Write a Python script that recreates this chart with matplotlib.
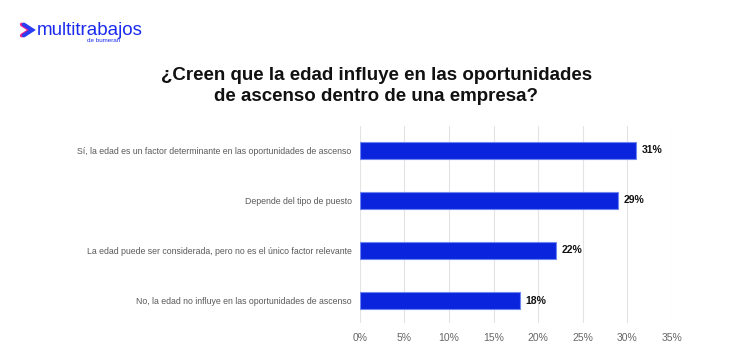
import matplotlib
matplotlib.use('Agg')
from matplotlib import pyplot as plt
from matplotlib.lines import Line2D

# Data
categories = ['Sí, la edad es un factor determinante en las oportunidades de ascenso',
              'Depende del tipo de puesto',
              'La edad puede ser considerada, pero no es el único factor relevante',
              'No, la edad no influye en las oportunidades de ascenso']
values = [31, 29, 22, 18]
xticks = [0, 5, 10, 15, 20, 25, 30, 35]

plt.rcParams['font.family'] = ['Liberation Sans', 'DejaVu Sans']

W, H = 753, 364
fig = plt.figure(figsize=(W / 100, H / 100), dpi=100)
ax = fig.add_axes([0.478, 0.1126, 0.892 - 0.478, 0.654 - 0.1126])

ypos = list(range(len(categories)))
ax.barh(ypos, values, height=0.35, color='#0A24DE', edgecolor='#6F86F0', linewidth=0.8, zorder=3)
for y, v in zip(ypos, values):
    ax.text(v + 0.6, y, '%d%%' % v, va='center', ha='left', fontsize=7.5, fontweight='bold', color='#111111')

ax.set_xlim(0, 35)
ax.set_ylim(3.45, -0.49)
ax.set_xticks(xticks)
ax.set_xticklabels(['%d%%' % t for t in xticks], fontsize=7.5, color='#666666')
ax.set_yticks(ypos)
ax.set_yticklabels(categories, fontsize=6.3, color='#5a5a5a')
ax.tick_params(axis='both', length=0)
ax.tick_params(axis='y', pad=6)
ax.tick_params(axis='x', pad=7)
ax.grid(axis='x', color='#e3e3e3', linewidth=0.8, zorder=0)
for s in ax.spines.values():
    s.set_visible(False)

# Title
fig.text(0.5, 0.764, '¿Creen que la edad influye en las oportunidades\nde ascenso dentro de una empresa?',
         ha='center', va='center', fontsize=13.5, fontweight='bold', color='#111111', linespacing=1.32)

# Logo: chevron drawn as lines, wordmark as text
def chevron(dx, color):
    xs = [(23 + dx) / W, (31.5 + dx) / W, (23 + dx) / W]
    ys = [1 - 24.5 / H, 1 - 30 / H, 1 - 35.5 / H]
    fig.add_artist(Line2D(xs, ys, transform=fig.transFigure, color=color, linewidth=2.8,
                          solid_capstyle='round', solid_joinstyle='miter'))

chevron(-1.2, '#F0208A')
chevron(0.8, '#2A3CF5')
fig.text(37 / W, 1 - 30.5 / H, 'multitrabajos', fontsize=13.5, color='#1A2BEF', va='center', ha='left')
fig.text(87 / W, 1 - 41 / H, 'de bumeran', fontsize=4.5, color='#1A2BEF', va='center', ha='left')

fig.savefig('out.png', dpi=100)
